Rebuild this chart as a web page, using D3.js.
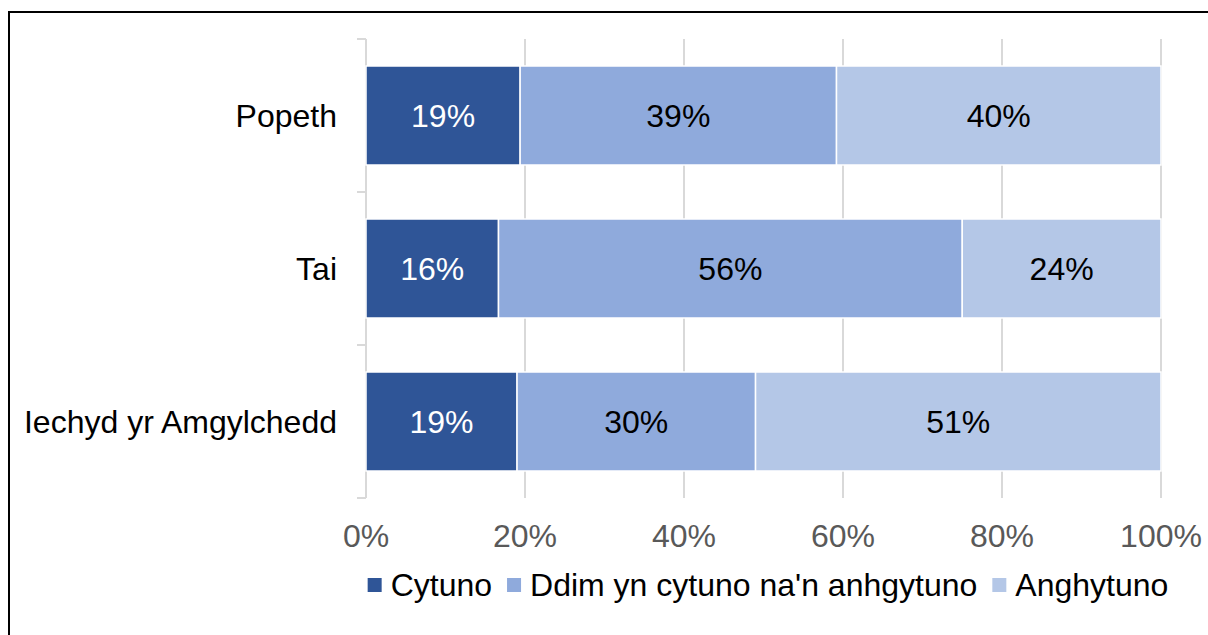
<!DOCTYPE html>
<html>
<head>
<meta charset="utf-8">
<script src="https://cdn.jsdelivr.net/npm/d3@7"></script>
<style>
  html, body { margin: 0; padding: 0; background: #fff; overflow: hidden; }
  svg { display: block; font-family: "Liberation Sans", Arial, sans-serif; }
</style>
</head>
<body>
<svg id="chart" width="1208" height="635"></svg>
<script>
// Categories (top to bottom) and the three response series
const categories = ["Popeth", "Tai", "Iechyd yr Amgylchedd"];
const seriesNames = ["Cytuno", "Ddim yn cytuno na'n anhgytuno", "Anghytuno"];
const cytuno = [19, 16, 19];
const ddim = [39, 56, 30];
const anghytuno = [40, 24, 51];
const xTicks = [0, 0.2, 0.4, 0.6, 0.8, 1];
const colors = ["#2F5597", "#8FAADC", "#B4C7E7"];
const labelColors = ["#ffffff", "#000000", "#000000"];

const rows = categories.map((c, i) => ({
  category: c,
  values: [cytuno[i], ddim[i], anghytuno[i]]
}));

const svg = d3.select("#chart");
const FONT = 32;

// Outer frame
svg.append("rect")
  .attr("x", 9).attr("y", 12).attr("width", 1400).attr("height", 800)
  .attr("fill", "none").attr("stroke", "#000").attr("stroke-width", 2);

const x = d3.scaleLinear().domain([0, 1]).range([366, 1161]);
const y = d3.scaleBand().domain(categories).range([39, 498])
  .paddingInner(0.353).paddingOuter(0.1765);

// Vertical gridlines
svg.append("g").selectAll("line").data(xTicks.slice(1)).join("line")
  .attr("x1", d => x(d)).attr("x2", d => x(d))
  .attr("y1", 39).attr("y2", 498)
  .attr("stroke", "#D9D9D9").attr("stroke-width", 2);

// Category axis with tick marks on slot boundaries
const step = y.step();
const slotEdges = categories.map(c => y(c) - y.paddingOuter() * step).concat([498]);
svg.append("line")
  .attr("x1", 366).attr("x2", 366).attr("y1", 39).attr("y2", 498)
  .attr("stroke", "#D9D9D9").attr("stroke-width", 2);
svg.append("g").selectAll("line").data(slotEdges).join("line")
  .attr("x1", 357).attr("x2", 366)
  .attr("y1", d => d).attr("y2", d => d)
  .attr("stroke", "#D9D9D9").attr("stroke-width", 2);

// Stacked, normalised segments
const segs = [];
rows.forEach(r => {
  const total = d3.sum(r.values);
  let acc = 0;
  r.values.forEach((v, k) => {
    segs.push({ category: r.category, k, v, x0: acc / total, x1: (acc + v) / total });
    acc += v;
  });
});

const g = svg.append("g");
g.selectAll("rect").data(segs).join("rect")
  .attr("x", d => x(d.x0)).attr("width", d => x(d.x1) - x(d.x0))
  .attr("y", d => y(d.category)).attr("height", y.bandwidth())
  .attr("fill", d => colors[d.k])
  .attr("stroke", "#fff").attr("stroke-width", 1.5);

g.selectAll("text").data(segs).join("text")
  .attr("x", d => (x(d.x0) + x(d.x1)) / 2)
  .attr("y", d => y(d.category) + y.bandwidth() / 2)
  .attr("dy", "0.35em")
  .attr("text-anchor", "middle")
  .attr("font-size", FONT)
  .attr("fill", d => labelColors[d.k])
  .text(d => d.v + "%");

// Category labels
svg.append("g").selectAll("text").data(categories).join("text")
  .attr("x", 337)
  .attr("y", d => y(d) + y.bandwidth() / 2)
  .attr("dy", "0.35em")
  .attr("text-anchor", "end")
  .attr("font-size", FONT)
  .attr("fill", "#000")
  .text(d => d);

// Percentage axis labels
svg.append("g").selectAll("text").data(xTicks).join("text")
  .attr("x", d => x(d)).attr("y", 547)
  .attr("text-anchor", "middle")
  .attr("font-size", FONT)
  .attr("fill", "#595959")
  .text(d => d3.format(".0%")(d));

// Legend, centred under the plot
const legend = svg.append("g");
const items = legend.selectAll("g").data(seriesNames).join("g");
items.append("rect")
  .attr("width", 14).attr("height", 14).attr("y", 578)
  .attr("fill", (d, i) => colors[i]);
items.append("text")
  .attr("y", 596).attr("x", 23)
  .attr("font-size", FONT).attr("fill", "#000")
  .text(d => d);
const widths = [];
items.each(function () { widths.push(23 + this.querySelector("text").getComputedTextLength()); });
const gap = 15;
const total = d3.sum(widths) + gap * (widths.length - 1);
let cx = 768 - total / 2;
items.attr("transform", (d, i) => {
  const t = `translate(${cx},0)`;
  cx += widths[i] + gap;
  return t;
});
</script>
</body>
</html>
